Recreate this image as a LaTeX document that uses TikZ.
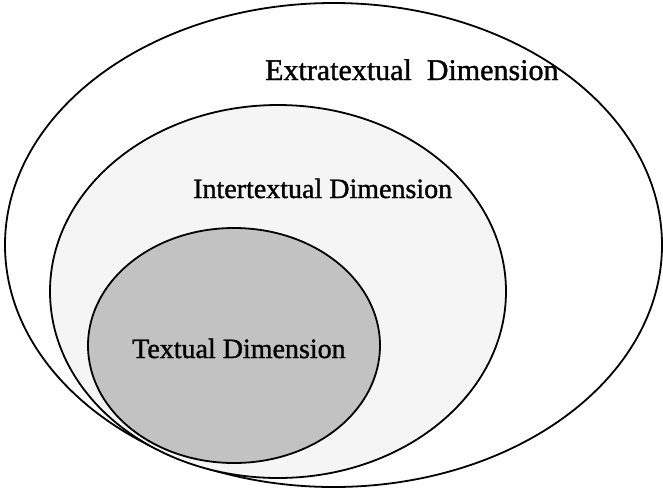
\documentclass[tikz,border=0pt]{standalone}
\usepackage{fontspec}
\setmainfont{Liberation Serif}[FakeBold=1.2]
\begin{document}
\begin{tikzpicture}[x=1pt,y=-1pt,
  ring/.style={draw=black,line width=1.8pt},
  lbl/.style={anchor=base west,inner sep=0pt,font=\fontsize{28}{30}\selectfont}]
\useasboundingbox (0,0) rectangle (663,493);
\draw[ring,fill=white] (333.5,245) ellipse [x radius=328.5,y radius=242];
\draw[ring,fill=black!4] (278,291.5) ellipse [x radius=228,y radius=186.5];
\draw[ring,fill=black!24] (234,345.5) ellipse [x radius=146,y radius=117.5];
\node[lbl,font=\fontsize{30}{32}\selectfont] (extra) at (265,80) {Extratextual\hspace{0.25em} Dimension};
\node[lbl] (inter) at (193,198) {Intertextual Dimension};
\node[lbl] (textual) at (132,358) {Textual Dimension};
\end{tikzpicture}
\end{document}
